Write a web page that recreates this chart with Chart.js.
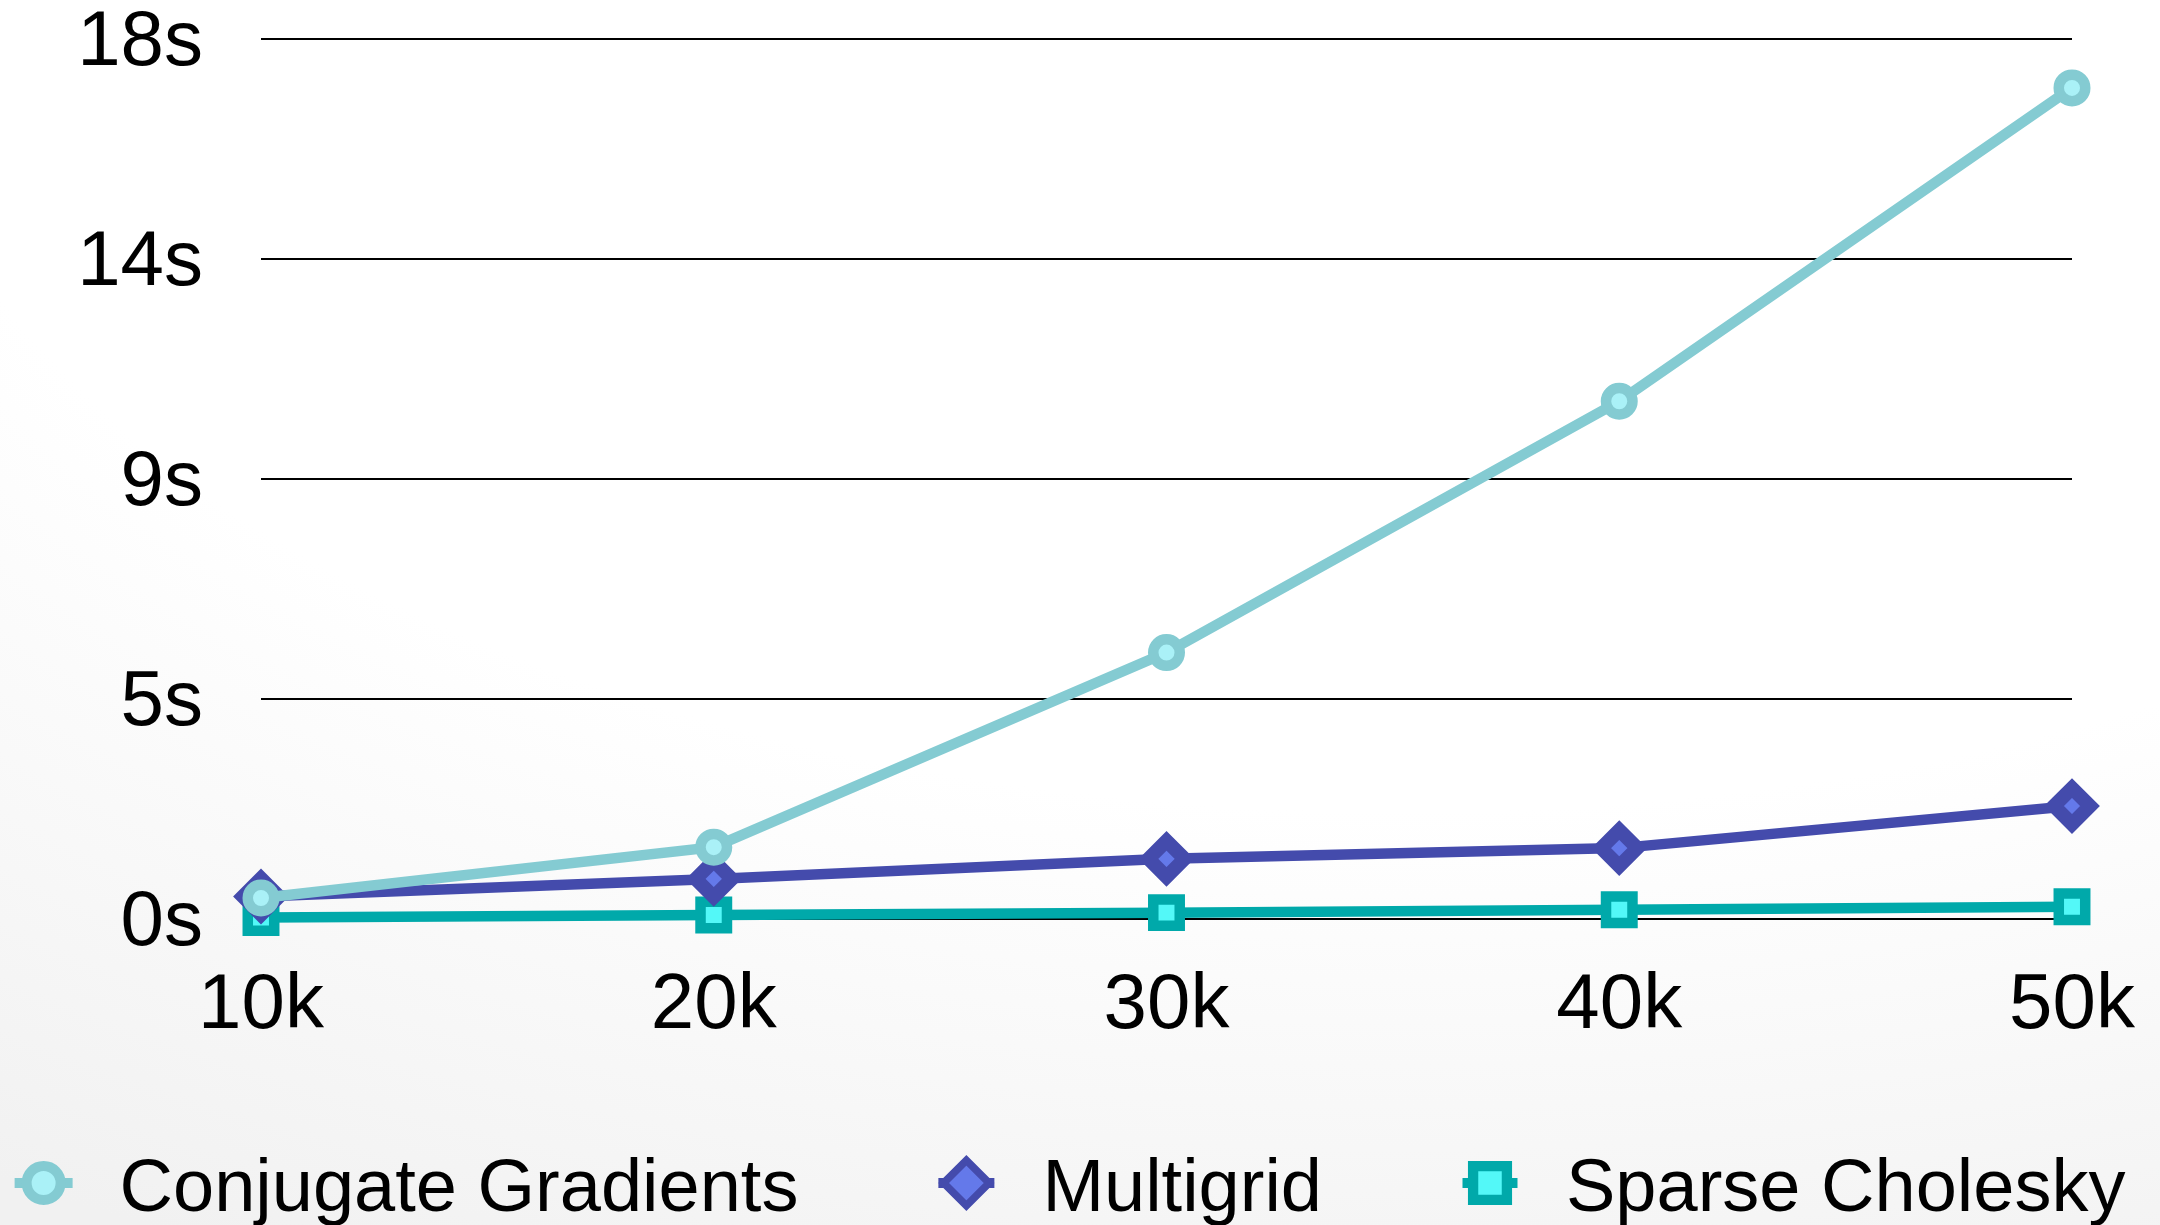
<!DOCTYPE html>
<html>
<head>
<meta charset="utf-8">
<script src="https://cdn.jsdelivr.net/npm/chart.js@4/dist/chart.umd.min.js"></script>
<style>
html, body { margin: 0; padding: 0; width: 2160px; height: 1225px; overflow: hidden; }
body { background: radial-gradient(ellipse 2600px 1400px at 65% 0%, #ffffff 58%, #f1f1f1 100%); }
#wrap { position: relative; width: 2160px; height: 1225px; }
canvas { display: block; }
</style>
</head>
<body>
<div id="wrap"><canvas id="chart" width="2160" height="1225"></canvas></div>
<script>
// ---- data ----
const categories = ['10k', '20k', '30k', '40k', '50k'];
const seriesNames = ['Conjugate Gradients', 'Multigrid', 'Sparse Cholesky'];
const conjugateGradients = [0.43, 1.47, 5.45, 10.59, 17.0];
const multigrid = [0.46, 0.82, 1.23, 1.45, 2.31];
const sparseCholesky = [0.03, 0.08, 0.13, 0.19, 0.25];
const yTickValues = [0, 4.5, 9, 13.5, 18];
const yTickLabels = ['0s', '5s', '9s', '14s', '18s'];

// ---- styles ----
const FONT_FAMILY = '"Liberation Sans", Arial, Helvetica, sans-serif';
const styles = [
  { line: '#84CBD2', fill: '#AAF1F7', pointStyle: 'circle', radius: 13.25, bw: 10.5,
    legend: { radius: 17, bw: 10, stub: 58 } },
  { line: '#444BAC', fill: '#6479EA', pointStyle: 'rectRot', radius: 18, bw: 14,
    legend: { radius: 22.75, bw: 7.5, stub: 56 } },
  { line: '#00A9AA', fill: '#53F8F8', pointStyle: 'rect', radius: 18.7, bw: 10.5,
    legend: { radius: 23.9, bw: 10.3, stub: 55 } }
];
const seriesValues = [conjugateGradients, multigrid, sparseCholesky];

const datasets = seriesNames.map((name, i) => ({
  label: name,
  data: seriesValues[i],
  borderColor: styles[i].line,
  backgroundColor: styles[i].fill,
  borderWidth: 10.5,
  pointStyle: styles[i].pointStyle,
  pointRadius: styles[i].radius,
  pointHoverRadius: styles[i].radius,
  pointBorderWidth: styles[i].bw,
  pointBackgroundColor: styles[i].fill,
  pointBorderColor: styles[i].line,
  tension: 0,
  clip: false,
  fill: false
}));

// custom legend drawn from the dataset definitions
const bottomLegend = {
  id: 'bottomLegend',
  afterDraw(chart) {
    const ctx = chart.ctx;
    ctx.save();
    ctx.font = '74px ' + FONT_FAMILY;
    ctx.textBaseline = 'alphabetic';
    ctx.textAlign = 'left';
    const sets = chart.data.datasets;
    const markerToText = 76, textToMarker = 168, half = 29;
    const widths = sets.map(d => ctx.measureText(d.label).width);
    let total = half;
    widths.forEach((w, i) => { total += markerToText + w + (i < widths.length - 1 ? textToMarker : 0); });
    let cx = chart.width / 2 - 10 - total / 2 + half;
    const cy = chart.chartArea.bottom + 264;
    const baseY = chart.chartArea.bottom + 292;
    sets.forEach((d, i) => {
      const st = styles[i];
      ctx.strokeStyle = d.borderColor;
      ctx.lineWidth = 10;
      ctx.beginPath();
      ctx.moveTo(cx - st.legend.stub / 2, cy);
      ctx.lineTo(cx + st.legend.stub / 2, cy);
      ctx.stroke();
      ctx.fillStyle = d.pointBackgroundColor;
      ctx.strokeStyle = d.pointBorderColor;
      ctx.lineWidth = st.legend.bw;
      Chart.helpers.drawPoint(ctx, { pointStyle: d.pointStyle, radius: st.legend.radius, borderWidth: st.legend.bw, rotation: 0 }, cx, cy);
      ctx.fillStyle = '#000';
      ctx.fillText(d.label, cx + markerToText, baseY);
      cx += markerToText + widths[i] + textToMarker;
    });
    ctx.restore();
  }
};

new Chart(document.getElementById('chart'), {
  type: 'line',
  data: { labels: categories, datasets },
  options: {
    responsive: false,
    animation: false,
    devicePixelRatio: 1,
    layout: { padding: { top: 39, right: 88, bottom: 0, left: 0 } },
    plugins: { legend: { display: false }, tooltip: { enabled: false } },
    scales: {
      x: {
        offset: false,
        grid: { display: false, drawTicks: false },
        border: { display: false },
        ticks: {
          color: '#000',
          font: { family: FONT_FAMILY, size: 78, lineHeight: 1 },
          padding: 48,
          maxRotation: 0,
          autoSkip: false
        },
        afterFit(scale) {
          scale.height = 306;
          scale.paddingLeft = 0; scale.paddingRight = 0;
          scale.paddingTop = 0; scale.paddingBottom = 0;
        }
      },
      y: {
        min: 0,
        max: 18,
        grid: { color: '#000', lineWidth: 2, drawTicks: false },
        border: { display: false },
        afterBuildTicks(scale) { scale.ticks = yTickValues.map(v => ({ value: v })); },
        ticks: {
          color: '#000',
          font: { family: FONT_FAMILY, size: 78, lineHeight: 1 },
          padding: 58,
          labelOffset: 4.5,
          callback: (value, index) => yTickLabels[index]
        },
        afterFit(scale) {
          scale.width = 261;
          scale.paddingTop = 0; scale.paddingBottom = 0;
          scale.paddingLeft = 0; scale.paddingRight = 0;
        }
      }
    }
  },
  plugins: [bottomLegend]
});
</script>
</body>
</html>
